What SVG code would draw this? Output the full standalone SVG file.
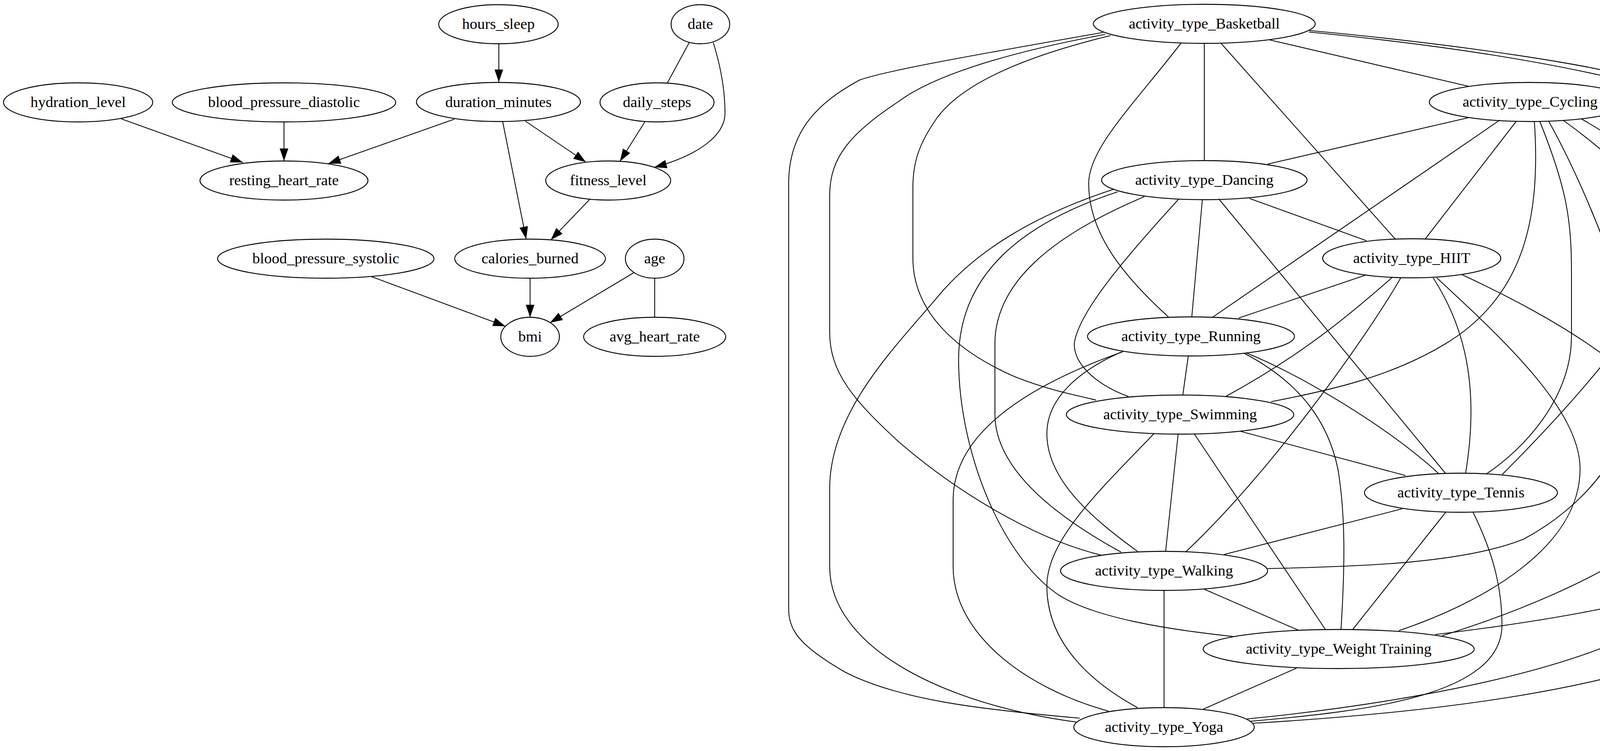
<svg xmlns="http://www.w3.org/2000/svg" width="7045" height="1922" viewBox="0 0 7045 1922">
<style>
.n ellipse{fill:none;stroke:#000;stroke-width:2.3}
.n text{font-family:"Liberation Serif","Times New Roman",serif;font-size:38.9px;text-anchor:middle;fill:#000}
#edges path,#edges line{fill:none;stroke:#000;stroke-width:2.1}
#edges .a{marker-end:url(#arr)}
</style>
<defs>
<marker id="arr" markerUnits="userSpaceOnUse" markerWidth="34" markerHeight="24" refX="32" refY="11" orient="auto"><path d="M0,0 L32,11 L0,22 z" fill="#000"/></marker>
</defs>
<rect width="7045" height="1922" fill="#fff"/>
<g id="edges">
<!-- left cluster -->
<line class="a" x1="1277" y1="112" x2="1277" y2="210"/>
<line class="a" x1="310" y1="304" x2="622" y2="416"/>
<line class="a" x1="727" y1="312" x2="727" y2="412"/>
<line class="a" x1="1163" y1="305" x2="840" y2="419"/>
<line class="a" x1="1345" y1="310" x2="1500" y2="415"/>
<line class="a" x1="1287" y1="312" x2="1347" y2="612"/>
<line class="a" x1="1652" y1="310" x2="1587" y2="413"/>
<path class="a" d="M1826,109 C1845,170 1856,230 1856,290 C1856,350 1780,400 1675,428"/>
<line x1="1765" y1="108" x2="1708" y2="213"/>
<line class="a" x1="1509" y1="511" x2="1410" y2="614"/>
<line class="a" x1="951" y1="708" x2="1294" y2="835"/>
<line class="a" x1="1357" y1="712" x2="1357" y2="812"/>
<line class="a" x1="1624" y1="697" x2="1408" y2="826"/>
<line x1="1676" y1="712" x2="1676" y2="812"/>
<!-- activity cluster -->
<line x1="3250" y1="102" x2="3760" y2="221"/>
<line x1="3083" y1="111" x2="3083" y2="411"/>
<line x1="3125" y1="110" x2="3572" y2="612"/>
<path d="M3023,111 C2900,270 2787,380 2787,470 C2787,600 2880,710 2991,811"/>
<path d="M2843,91 C2600,150 2460,220 2400,300 C2350,370 2337,420 2337,480 L2337,660 C2337,800 2450,900 2600,965 C2690,1000 2750,1010 2806,1024"/>
<path d="M3351,78 C3750,115 4100,170 4180,200 C4230,230 4321,380 4321,520 C4321,720 4000,1060 3846,1214"/>
<path d="M2829,88 C2550,140 2380,200 2300,260 C2180,340 2124,400 2124,500 L2124,850 C2124,950 2180,1020 2300,1130 C2450,1260 2650,1380 2820,1421"/>
<path d="M3351,82 C3950,140 4400,240 4560,360 C4630,420 4657,500 4657,650 L4657,1240 C4657,1460 4200,1560 3674,1624"/>
<path d="M2824,83 C2500,140 2270,180 2200,205 C2100,260 2019,330 2019,470 L2019,1560 C2019,1620 2060,1660 2163,1720 C2300,1790 2500,1815 2764,1838"/>
<line x1="3760" y1="301" x2="3245" y2="420"/>
<line x1="3882" y1="310" x2="3649" y2="611"/>
<line x1="3840" y1="307" x2="3104" y2="812"/>
<path d="M3928,311 C3945,560 3900,760 3700,880 C3560,965 3400,1000 3254,1028"/>
<path d="M3942,311 C4010,480 4023,560 4023,700 L4023,860 C4023,1020 3900,1150 3805,1213"/>
<path d="M3965,311 C4060,480 4190,800 4190,950 C4190,1150 4050,1300 3900,1380 C3750,1440 3500,1450 3245,1455"/>
<path d="M4002,308 C4200,450 4446,700 4446,900 L4446,1070 C4446,1300 4100,1500 3692,1627"/>
<path d="M4048,304 C4300,450 4552,650 4552,900 L4552,1450 C4552,1700 3900,1810 3208,1851"/>
<line x1="3199" y1="508" x2="3498" y2="616"/>
<line x1="3078" y1="511" x2="3051" y2="811"/>
<path d="M3018,509 C2880,660 2760,800 2750,880 C2750,940 2820,990 2889,1015"/>
<line x1="3120" y1="509" x2="3701" y2="1212"/>
<path d="M2930,503 C2700,600 2547,720 2547,880 L2547,1060 C2547,1200 2700,1320 2870,1413"/>
<path d="M2861,491 C2620,570 2454,700 2454,920 C2454,1150 2560,1420 2709,1522 C2800,1580 2980,1610 3157,1629"/>
<path d="M2852,484 C2650,550 2500,640 2400,760 C2300,880 2124,1050 2124,1250 L2124,1450 C2124,1650 2400,1800 2756,1848"/>
<line x1="3496" y1="704" x2="3171" y2="814"/>
<path d="M3563,711 C3450,810 3330,910 3139,1014"/>
<path d="M3669,711 C3745,830 3790,980 3752,1211"/>
<path d="M3586,711 C3500,860 3260,1200 3037,1411"/>
<path d="M3678,711 C3850,870 4045,1050 4045,1200 C4045,1400 3800,1540 3581,1614"/>
<path d="M3743,703 C3950,800 4341,1000 4341,1250 L4341,1460 C4341,1640 3800,1780 3192,1840"/>
<line x1="3042" y1="911" x2="3028" y2="1011"/>
<path d="M3190,903 C3330,960 3550,1090 3683,1212"/>
<path d="M2870,901 C2760,950 2680,1020 2680,1110 C2680,1230 2800,1330 2912,1411"/>
<path d="M3185,904 C3330,980 3400,1080 3425,1200 C3445,1320 3443,1450 3433,1610"/>
<path d="M2875,900 C2650,980 2440,1100 2440,1280 L2440,1450 C2440,1620 2620,1760 2838,1820"/>
<line x1="3176" y1="1104" x2="3598" y2="1217"/>
<line x1="3016" y1="1111" x2="2984" y2="1411"/>
<line x1="3057" y1="1110" x2="3393" y2="1611"/>
<path d="M2954,1110 C2820,1250 2680,1380 2680,1500 C2680,1650 2800,1750 2912,1811"/>
<line x1="3590" y1="1302" x2="3134" y2="1419"/>
<line x1="3701" y1="1311" x2="3463" y2="1611"/>
<path d="M3771,1311 C3830,1430 3845,1520 3845,1600 C3845,1780 3500,1820 3200,1846"/>
<line x1="3083" y1="1508" x2="3324" y2="1613"/>
<line x1="2980" y1="1511" x2="2980" y2="1811"/>
<line x1="3319" y1="1710" x2="3080" y2="1815"/>
<!-- intensity -->
<line x1="5122" y1="110" x2="4996" y2="213"/>
<path d="M5179,111 C5179,250 5160,340 5041,414"/>
<line x1="4943" y1="311" x2="4950" y2="410"/>
<!-- health -->
<line x1="5831" y1="111" x2="5831" y2="211"/>
<path d="M5652,101 C5540,170 5485,250 5487,290 C5490,340 5530,380 5580,410"/>
<path d="M6014,101 C6140,180 6196,280 6196,380 C6196,480 6130,560 6106,611"/>
<line x1="5785" y1="311" x2="5692" y2="410"/>
<path d="M5917,310 C5980,380 6070,480 6074,611"/>
<line x1="5752" y1="510" x2="5977" y2="614"/>
<!-- smoking -->
<line x1="6707" y1="111" x2="6618" y2="210"/>
<path d="M6812,111 C6890,220 6900,330 6812,411"/>
<line x1="6618" y1="311" x2="6707" y2="410"/>
</g>
<g id="hours_sleep" class="n"><ellipse cx="1276" cy="62" rx="153" ry="50"/><text x="1276" y="74">hours_sleep</text></g>
<g id="date" class="n"><ellipse cx="1793" cy="62" rx="75" ry="50"/><text x="1793" y="74">date</text></g>
<g id="hydration_level" class="n"><ellipse cx="200" cy="262" rx="191" ry="50"/><text x="200" y="274">hydration_level</text></g>
<g id="blood_pressure_diastolic" class="n"><ellipse cx="727" cy="262" rx="286" ry="50"/><text x="727" y="274">blood_pressure_diastolic</text></g>
<g id="duration_minutes" class="n"><ellipse cx="1276" cy="261" rx="210" ry="50"/><text x="1276" y="274">duration_minutes</text></g>
<g id="daily_steps" class="n"><ellipse cx="1682" cy="262" rx="146" ry="50"/><text x="1682" y="274">daily_steps</text></g>
<g id="resting_heart_rate" class="n"><ellipse cx="727" cy="462" rx="215" ry="50"/><text x="727" y="474">resting_heart_rate</text></g>
<g id="fitness_level" class="n"><ellipse cx="1557" cy="462" rx="160" ry="50"/><text x="1557" y="474">fitness_level</text></g>
<g id="blood_pressure_systolic" class="n"><ellipse cx="834" cy="662" rx="277" ry="50"/><text x="834" y="674">blood_pressure_systolic</text></g>
<g id="calories_burned" class="n"><ellipse cx="1357" cy="662" rx="193" ry="50"/><text x="1357" y="674">calories_burned</text></g>
<g id="age" class="n"><ellipse cx="1676" cy="662" rx="75" ry="50"/><text x="1676" y="674">age</text></g>
<g id="bmi" class="n"><ellipse cx="1357" cy="862" rx="75" ry="50"/><text x="1357" y="874">bmi</text></g>
<g id="avg_heart_rate" class="n"><ellipse cx="1676" cy="862" rx="182" ry="50"/><text x="1676" y="874">avg_heart_rate</text></g>
<g id="activity_type_Basketball" class="n"><ellipse cx="3083" cy="61" rx="284" ry="50"/><text x="3083" y="73">activity_type_Basketball</text></g>
<g id="activity_type_Cycling" class="n"><ellipse cx="3917" cy="261" rx="258" ry="50"/><text x="3917" y="273">activity_type_Cycling</text></g>
<g id="activity_type_Dancing" class="n"><ellipse cx="3083" cy="461" rx="263" ry="50"/><text x="3083" y="473">activity_type_Dancing</text></g>
<g id="activity_type_HIIT" class="n"><ellipse cx="3614" cy="661" rx="228" ry="50"/><text x="3614" y="673">activity_type_HIIT</text></g>
<g id="activity_type_Running" class="n"><ellipse cx="3049" cy="861" rx="265" ry="50"/><text x="3049" y="873">activity_type_Running</text></g>
<g id="activity_type_Swimming" class="n"><ellipse cx="3021" cy="1061" rx="291" ry="50"/><text x="3021" y="1073">activity_type_Swimming</text></g>
<g id="activity_type_Tennis" class="n"><ellipse cx="3740" cy="1261" rx="247" ry="50"/><text x="3740" y="1273">activity_type_Tennis</text></g>
<g id="activity_type_Walking" class="n"><ellipse cx="2980" cy="1461" rx="265" ry="50"/><text x="2980" y="1473">activity_type_Walking</text></g>
<g id="activity_type_Weight_Training" class="n"><ellipse cx="3427" cy="1661" rx="347" ry="50"/><text x="3427" y="1673">activity_type_Weight Training</text></g>
<g id="activity_type_Yoga" class="n"><ellipse cx="2980" cy="1861" rx="231" ry="50"/><text x="2980" y="1873">activity_type_Yoga</text></g>
<g id="intensity_High" class="n"><ellipse cx="5179" cy="61" rx="183" ry="50"/><text x="5179" y="73">intensity_High</text></g>
<g id="intensity_Low" class="n"><ellipse cx="4943" cy="261" rx="175" ry="50"/><text x="4943" y="273">intensity_Low</text></g>
<g id="intensity_Medium" class="n"><ellipse cx="4957" cy="461" rx="219" ry="50"/><text x="4957" y="473">intensity_Medium</text></g>
<g id="health_condition_Asthma" class="n"><ellipse cx="5831" cy="61" rx="297" ry="50"/><text x="5831" y="73">health_condition_Asthma</text></g>
<g id="health_condition_Diabetes" class="n"><ellipse cx="5831" cy="261" rx="304" ry="50"/><text x="5831" y="273">health_condition_Diabetes</text></g>
<g id="health_condition_Hypertension" class="n"><ellipse cx="5645" cy="461" rx="353" ry="50"/><text x="5645" y="473">health_condition_Hypertension</text></g>
<g id="health_condition_None" class="n"><ellipse cx="6074" cy="661" rx="270" ry="50"/><text x="6074" y="673">health_condition_None</text></g>
<g id="smoking_status_Current" class="n"><ellipse cx="6750" cy="61" rx="283" ry="50"/><text x="6750" y="73">smoking_status_Current</text></g>
<g id="smoking_status_Former" class="n"><ellipse cx="6573" cy="261" rx="281" ry="50"/><text x="6573" y="273">smoking_status_Former</text></g>
<g id="smoking_status_Never" class="n"><ellipse cx="6750" cy="461" rx="266" ry="50"/><text x="6750" y="473">smoking_status_Never</text></g>
</svg>
